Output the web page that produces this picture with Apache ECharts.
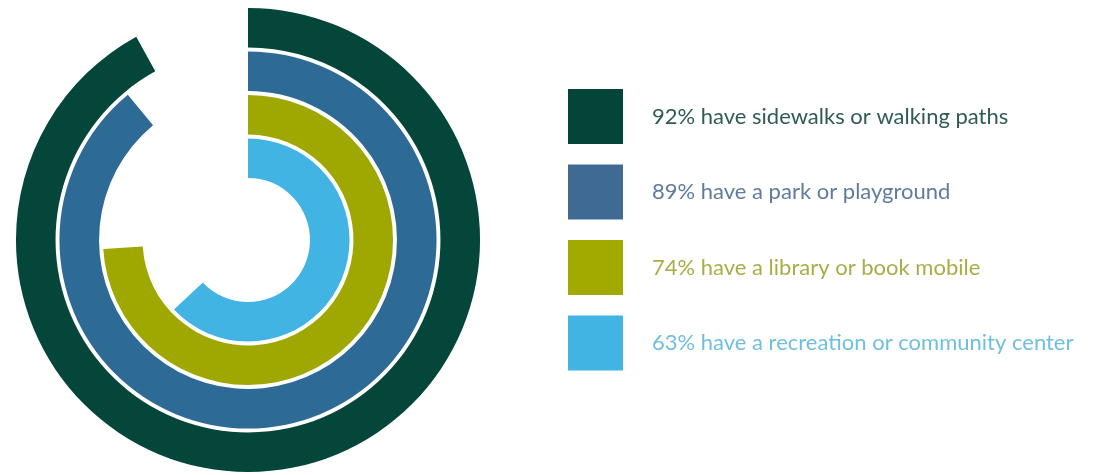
<!DOCTYPE html>
<html>
<head>
<meta charset="utf-8">
<script src="https://cdn.jsdelivr.net/npm/echarts@6/dist/echarts.min.js"></script>
<style>
html,body{margin:0;padding:0;background:#fff;}
#main{width:1097px;height:475px;}
</style>
</head>
<body>
<div id="main"></div>
<script>
// Rings from inside to outside
const categories = ['recreation', 'library', 'park', 'sidewalks'];
const labels = [
  '63% have a recreation or community center',
  '74% have a library or book mobile',
  '89% have a park or playground',
  '92% have sidewalks or walking paths'
];
const values = [63, 74, 89, 92];
const ringColors = ['#42B4E4', '#9FA800', '#2E6A96', '#05463A'];
const legendColors = ['#42B4E4', '#A2AA00', '#3E6A94', '#04453A'];
const textColors = ['#6FBFDF', '#A7AE45', '#5F7C9C', '#2F5C52'];

const chart = echarts.init(document.getElementById('main'));

const series = categories.map((c, i) => ({
  name: labels[i],
  type: 'bar',
  coordinateSystem: 'polar',
  barGap: '-100%',
  barCategoryGap: '9%',
  data: categories.map((_, j) => (j === i ? values[i] : '-')),
  itemStyle: { color: ringColors[i] },
  emphasis: { disabled: true },
  animation: false
}));

const legendOrder = [3, 2, 1, 0];

chart.setOption({
  animation: false,
  polar: { center: [248, 240], radius: [60, 234] },
  angleAxis: {
    min: 0, max: 100, startAngle: 90, clockwise: true,
    show: false
  },
  radiusAxis: {
    type: 'category',
    data: categories,
    show: false
  },
  legend: {
    orient: 'vertical',
    left: 568,
    top: 89,
    padding: 0,
    itemWidth: 55,
    itemHeight: 55,
    itemGap: 20.5,
    icon: 'rect',
    selectedMode: false,
    data: legendOrder.map(i => ({
      name: labels[i],
      itemStyle: { color: legendColors[i] },
      textStyle: { color: textColors[i] }
    })),
    textStyle: {
      fontFamily: 'Lato',
      fontSize: 22,
      padding: [0, 0, 0, 24]
    }
  },
  series: series
});
</script>
</body>
</html>
